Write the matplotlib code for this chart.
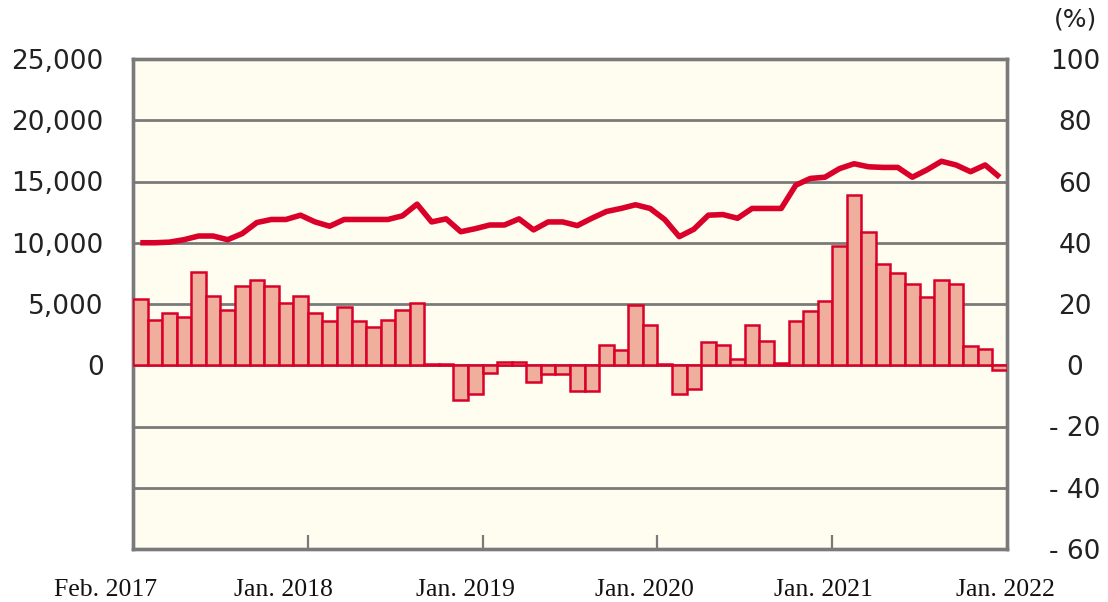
import matplotlib
matplotlib.use("Agg")
import matplotlib.pyplot as plt
import matplotlib.transforms as mtransforms
import numpy as np

# monthly data, Feb. 2017 .. Jan. 2022
amount = [10000, 10000, 10050, 10250, 10550, 10550, 10250, 10750, 11650, 11900,
          11900, 12250, 11700, 11350, 11900, 11900, 11900, 11900, 12200, 13150,
          11700, 11950, 10900, 11150, 11450, 11450, 11950, 11050, 11700, 11700,
          11400, 12000, 12550, 12800, 13100, 12800, 11900, 10500, 11100, 12250,
          12300, 12000, 12800, 12800, 12800, 14700, 15250, 15350, 16050, 16450,
          16200, 16150, 16150, 15350, 15950, 16650, 16350, 15800, 16350, 15350]
growth = [21.5, 14.7, 17.0, 15.7, 30.4, 22.5, 18.0, 25.8, 28.0, 25.8,
          20.2, 22.5, 17.0, 14.4, 19.0, 14.4, 12.5, 14.7, 18.0, 20.2,
          0.5, 0.5, -11.4, -9.4, -2.5, 1.1, 1.1, -5.6, -3.0, -3.0,
          -8.3, -8.3, 6.5, 5.1, 19.8, 13.3, 0.5, -9.3, -7.9, 7.6,
          6.5, 1.9, 13.3, 7.8, 0.8, 14.4, 17.6, 20.9, 39.0, 55.7,
          43.5, 33.0, 30.1, 26.6, 22.2, 27.7, 26.5, 6.4, 5.3, -1.4]
x_labels = ["Feb. 2017", "Jan. 2018", "Jan. 2019", "Jan. 2020", "Jan. 2021", "Jan. 2022"]
x_label_pos = [-1.85, 10.3, 22.8, 35.1, 47.4, 59.9]
left_ticks = list(range(-15000, 25001, 5000))
right_ticks = list(range(-60, 101, 20))

red = "#D9002A"
salmon = "#F0AE9C"
gray = "#7A7A7A"
txt = "#222222"

fig = plt.figure(figsize=(11.08, 6.02), dpi=100)
ax = fig.add_axes([133 / 1108, 1 - 549 / 602, 874 / 1108, 490 / 602])
ax2 = ax.twinx()

ax.set_facecolor("#FFFDEF")
ax.set_xlim(0, len(growth))
ax.set_ylim(-15000, 25000)
ax2.set_ylim(-60, 100)

idx = np.arange(len(growth))
ax2.bar(idx, growth, width=1.0, align="edge", color=salmon,
        edgecolor=red, linewidth=1.8, zorder=3)
ax.plot(idx + 0.5, amount, color=red, linewidth=4, zorder=3,
        solid_joinstyle="round", solid_capstyle="butt")

ax.set_yticks(left_ticks)
ax.set_yticklabels([f"{v:,}" if v >= 0 else "" for v in left_ticks])
ax.grid(axis="y", color=gray, linewidth=2)
ax.set_axisbelow(True)
ax.tick_params(axis="y", length=0, pad=21, labelsize=19, labelcolor=txt)

ax2.set_yticks(right_ticks)
ax2.set_yticklabels([str(v) if v >= 0 else "- " + str(-v) for v in right_ticks])
ax2.tick_params(axis="y", length=0, pad=49, labelsize=19, labelcolor=txt)
for t in ax2.get_yticklabels():
    t.set_ha("center")

ax.set_xticks([12, 24, 36, 48])
ax.set_xticklabels([])
ax.tick_params(axis="x", direction="in", length=10, width=1.6, color=gray)

for a in (ax, ax2):
    for s in a.spines.values():
        s.set_color(gray)
        s.set_linewidth(2.4)

trans = mtransforms.blended_transform_factory(ax.transData, ax.transAxes)
for pos, lab in zip(x_label_pos, x_labels):
    ax.text(pos, -0.084, lab, transform=trans, ha="center", va="center",
            fontsize=18.5, family="Liberation Serif", color="#111111")

fig.text(1075 / 1108, 1 - 20 / 602, "(%)", ha="center", va="center",
         fontsize=18, color=txt)

fig.savefig("out.png", dpi=100)
